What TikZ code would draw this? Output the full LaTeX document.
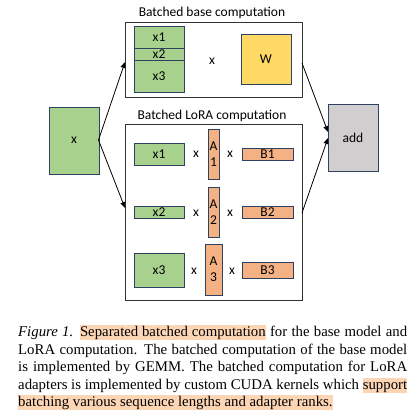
\documentclass[tikz,border=0pt]{standalone}
\usepackage{fontspec}
\setmainfont{Liberation Serif}
\newfontfamily\diag{Carlito}
\usetikzlibrary{arrows.meta}
\definecolor{gfill}{HTML}{A9D18E}
\definecolor{yfill}{HTML}{FFD966}
\definecolor{ofill}{HTML}{F4B183}
\definecolor{grfill}{HTML}{D0CECE}
\definecolor{bord}{HTML}{2F4160}
\definecolor{hl}{HTML}{FCD5B5}
\newcommand{\hlt}[1]{{\setlength{\fboxsep}{0pt}\colorbox{hl}{\rule[-3.5pt]{0pt}{15pt}#1}}}
\tikzset{
  cbox/.style={draw=bord, line width=0.9pt, inner sep=0pt, font=\diag\fontsize{13.5}{14}\selectfont},
  gbox/.style={cbox, fill=gfill},
  obox/.style={cbox, fill=ofill},
  outer/.style={draw=black!80, line width=1pt, inner sep=0pt},
  lbl/.style={font=\diag\fontsize{13.5}{14}\selectfont, inner sep=0pt},
  arr/.style={-{Triangle[length=6pt,width=5pt]}, line width=0.8pt},
  capline/.style={inner sep=0pt, anchor=base west, font=\fontsize{14.8}{17.4}\selectfont}
}
\begin{document}
\begin{tikzpicture}[x=1pt,y=-1pt]
\useasboundingbox (0,0) rectangle (413,416);
% outer boxes
\node[outer, minimum width=177pt, minimum height=75pt] (base) at (213.5,59.5) {};
\node[outer, minimum width=177pt, minimum height=176pt] (lora) at (213.5,212) {};
\node[lbl] (tbase) at (212,13) {Batched base computation};
\node[lbl] (tlora) at (212,116) {Batched LoRA computation};
% base
\node[gbox, minimum width=50pt, minimum height=22pt] (bx1) at (159,37) {x1};
\node[gbox, minimum width=50pt, minimum height=12pt] (bx2) at (159,54) {x2};
\node[gbox, minimum width=50pt, minimum height=32pt] (bx3) at (159,76) {x3};
\node[lbl] (bmul) at (212,61) {x};
\node[cbox, fill=yfill, minimum width=50pt, minimum height=50pt] (W) at (266,59) {W};
% lora rows
\node[gbox, minimum width=50pt, minimum height=22pt] (lx1) at (159,154) {x1};
\node[lbl] (m11) at (196,154) {x};
\node[obox, minimum width=11pt, minimum height=50pt, align=center, font=\diag\fontsize{13.5}{16}\selectfont] (A1) at (213.5,154) {A\\1};
\node[lbl] (m12) at (230,154) {x};
\node[obox, minimum width=51pt, minimum height=12pt] (B1) at (267.5,154) {B1};

\node[gbox, minimum width=50pt, minimum height=12pt] (lx2) at (159,212) {x2};
\node[lbl] (m21) at (196,213) {x};
\node[obox, minimum width=11pt, minimum height=50pt, align=center, font=\diag\fontsize{13.5}{16}\selectfont] (A2) at (213.5,212) {A\\2};
\node[lbl] (m22) at (230,213) {x};
\node[obox, minimum width=51pt, minimum height=12pt] (B2) at (267.5,212) {B2};

\node[gbox, minimum width=50pt, minimum height=34pt] (lx3) at (159,270) {x3};
\node[lbl] (m31) at (194,271) {x};
\node[obox, minimum width=17pt, minimum height=51pt, align=center, font=\diag\fontsize{13.5}{16}\selectfont] (A3) at (213.5,269.5) {A\\3};
\node[lbl] (m32) at (232,271) {x};
\node[obox, minimum width=51pt, minimum height=16pt] (B3) at (267.5,270) {B3};
% input / output
\node[gbox, minimum width=50pt, minimum height=67pt] (X) at (74,140.5) {x};
\node[cbox, fill=grfill, minimum width=50pt, minimum height=67pt] (add) at (353,137.5) {add};
\coordinate (xo) at (98.5,140);
\coordinate (bi) at (125,62);
\coordinate (li) at (125,208);
\coordinate (bo) at (302,63);
\coordinate (lo) at (302,213);
\coordinate (ai1) at (328,132);
\coordinate (ai2) at (328,138);
\draw[arr] (xo) -- (bi);
\draw[arr] (xo) -- (li);
\draw[arr] (bo) -- (ai1);
\draw[arr] (lo) -- (ai2);
% caption
\node[capline] (c1) at (18,336.7) {\hbox to 389pt{\textit{Figure 1.} \hlt{Separated batched computation} for the base model and}};
\node[capline] (c2) at (18,354.2) {\hbox to 389pt{LoRA computation. The batched computation of the base model}};
\node[capline] (c3) at (18,371.7) {\hbox to 389pt{is implemented by GEMM. The batched computation for LoRA}};
\node[capline] (c4) at (18,389.1) {\hbox to 389pt{adapters is implemented by custom CUDA kernels which \hlt{support}}};
\node[capline] (c5) at (18,406.5) {\hlt{batching various sequence lengths and adapter ranks.}};
\end{tikzpicture}
\end{document}
